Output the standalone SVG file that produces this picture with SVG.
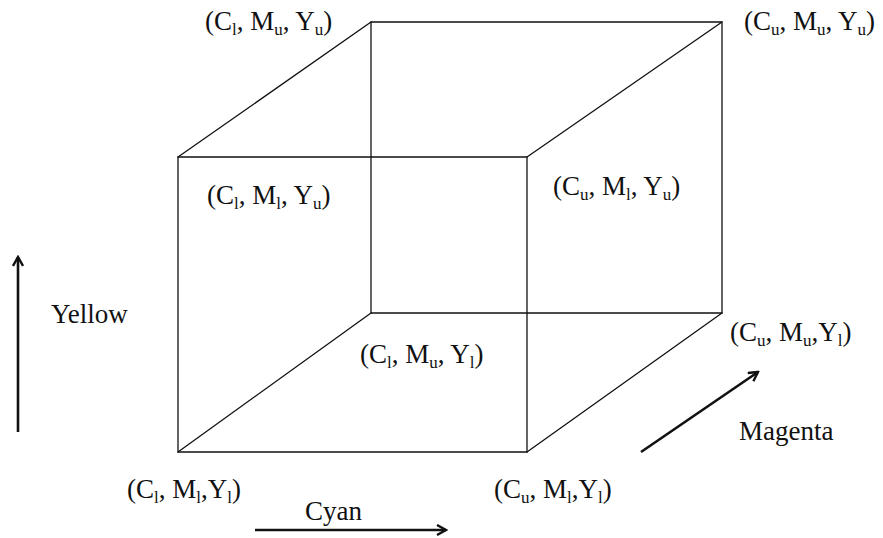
<svg xmlns="http://www.w3.org/2000/svg" width="883" height="538" viewBox="0 0 883 538">
<style>
  text { font-family: "Liberation Serif", "Times New Roman", serif; font-size: 27px; fill: #111; }
  .s { font-size: 17px; }
  .edge { stroke: #111; stroke-width: 1.3; fill: none; stroke-linecap: round; }
  .axis { stroke: #111; stroke-width: 2.6; fill: none; }
</style>
<defs>
  <marker id="ah" viewBox="0 0 12 12" refX="10" refY="6" markerWidth="12" markerHeight="12" markerUnits="userSpaceOnUse" orient="auto">
    <path d="M1,1 L10,6 L1,11" fill="none" stroke="#111" stroke-width="2.4"/>
  </marker>
</defs>
<g id="connectors">
  <path class="edge" d="M178,157 L527,157 L527,452 L178,452 Z"/>
  <path class="edge" d="M371,22 L722,22 L722,313 L371,313 Z"/>
  <line class="edge" x1="178" y1="157" x2="371" y2="22"/>
  <line class="edge" x1="527" y1="157" x2="722" y2="22"/>
  <line class="edge" x1="178" y1="452" x2="371" y2="313"/>
  <line class="edge" x1="527" y1="452" x2="722" y2="313"/>
  <line class="axis" x1="18" y1="432" x2="18" y2="257" marker-end="url(#ah)"/>
  <line class="axis" x1="255" y1="530" x2="446" y2="530" marker-end="url(#ah)"/>
  <line class="axis" x1="641" y1="452" x2="758" y2="372" marker-end="url(#ah)"/>
</g>
<g id="v-lmu-yu"><text x="205" y="30">(C<tspan class="s" dy="5">l</tspan><tspan dy="-5">, M</tspan><tspan class="s" dy="5">u</tspan><tspan dy="-5">, Y</tspan><tspan class="s" dy="5">u</tspan><tspan dy="-5">)</tspan></text></g>
<g id="v-umu-yu"><text x="744" y="30">(C<tspan class="s" dy="5">u</tspan><tspan dy="-5">, M</tspan><tspan class="s" dy="5">u</tspan><tspan dy="-5">, Y</tspan><tspan class="s" dy="5">u</tspan><tspan dy="-5">)</tspan></text></g>
<g id="v-lml-yu"><text x="207" y="204">(C<tspan class="s" dy="5">l</tspan><tspan dy="-5">, M</tspan><tspan class="s" dy="5">l</tspan><tspan dy="-5">, Y</tspan><tspan class="s" dy="5">u</tspan><tspan dy="-5">)</tspan></text></g>
<g id="v-uml-yu"><text x="553" y="195">(C<tspan class="s" dy="5">u</tspan><tspan dy="-5">, M</tspan><tspan class="s" dy="5">l</tspan><tspan dy="-5">, Y</tspan><tspan class="s" dy="5">u</tspan><tspan dy="-5">)</tspan></text></g>
<g id="v-lmu-yl"><text x="360" y="363">(C<tspan class="s" dy="5">l</tspan><tspan dy="-5">, M</tspan><tspan class="s" dy="5">u</tspan><tspan dy="-5">, Y</tspan><tspan class="s" dy="5">l</tspan><tspan dy="-5">)</tspan></text></g>
<g id="v-umu-yl"><text x="730" y="341">(C<tspan class="s" dy="5">u</tspan><tspan dy="-5">, M</tspan><tspan class="s" dy="5">u</tspan><tspan dy="-5">,Y</tspan><tspan class="s" dy="5">l</tspan><tspan dy="-5">)</tspan></text></g>
<g id="v-lml-yl"><text x="127" y="498">(C<tspan class="s" dy="5">l</tspan><tspan dy="-5">, M</tspan><tspan class="s" dy="5">l</tspan><tspan dy="-5">,Y</tspan><tspan class="s" dy="5">l</tspan><tspan dy="-5">)</tspan></text></g>
<g id="v-uml-yl"><text x="494" y="498">(C<tspan class="s" dy="5">u</tspan><tspan dy="-5">, M</tspan><tspan class="s" dy="5">l</tspan><tspan dy="-5">,Y</tspan><tspan class="s" dy="5">l</tspan><tspan dy="-5">)</tspan></text></g>
<g id="label-yellow"><text x="51" y="323">Yellow</text></g>
<g id="label-magenta"><text x="739" y="440">Magenta</text></g>
<g id="label-cyan"><text x="305" y="520">Cyan</text></g>
</svg>
